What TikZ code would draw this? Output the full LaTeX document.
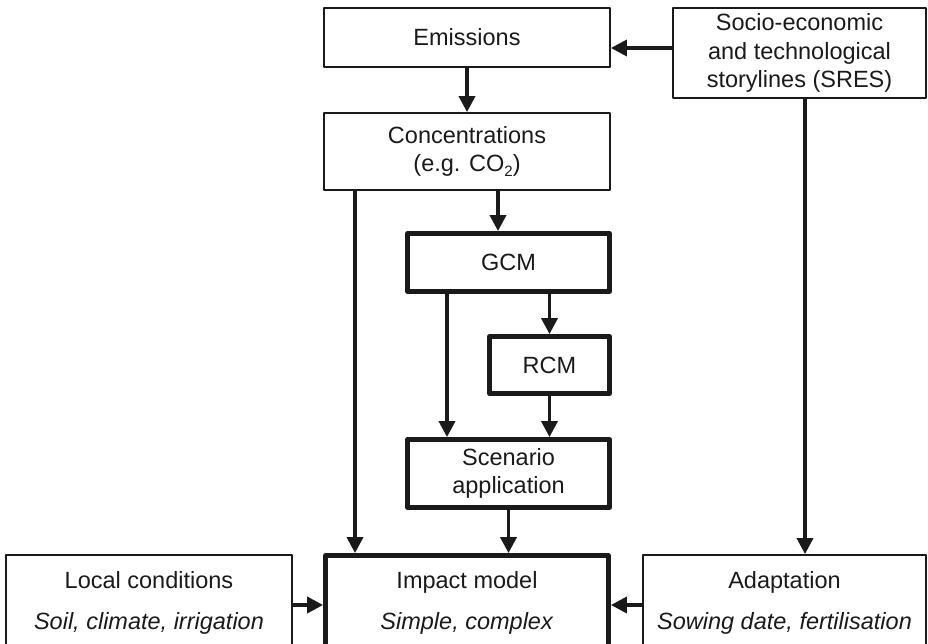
\documentclass[tikz,border=0pt]{standalone}
\usepackage{fontspec}
\setmainfont{Liberation Sans}
\usetikzlibrary{arrows.meta,calc}
\definecolor{ink}{HTML}{1A1A1A}
\newcommand{\lowsub}[1]{\raisebox{-5pt}{\fontsize{15}{15}\selectfont #1}}
\begin{document}
\begin{tikzpicture}[x=1pt,y=-1pt,
  every node/.style={font=\fontsize{23.5}{28.5}\selectfont, text=ink, align=center, inner sep=0pt},
  thinbox/.style={draw=ink, line width=1.8pt, line join=round},
  thickbox/.style={draw=ink, line width=4.8pt, line join=round},
  arr/.style={draw=ink, line width=3.5pt, -{Triangle[length=16pt,width=16pt]}}
]
\useasboundingbox (0,0) rectangle (928,644);

\node[thinbox, minimum width=286pt, minimum height=59pt] (emis) at (467,37.5) {Emissions};
\node[thinbox, minimum width=286pt, minimum height=77pt] (conc) at (467,151.5) {Concentrations\\(e.g. CO\lowsub{2})};
\node[thinbox, minimum width=253pt, minimum height=90pt] (sres) at (799.5,53) {Socio-economic\\and technological\\storylines (SRES)};
\node[thickbox, minimum width=202pt, minimum height=58pt] (gcm) at (508.5,262.5) {GCM};
\node[thickbox, minimum width=120pt, minimum height=57pt] (rcm) at (549.5,365) {RCM};
\node[thickbox, minimum width=202pt, minimum height=68pt] (scen) at (508.5,473.5) {Scenario\\application};
\node[thickbox, minimum width=283pt, minimum height=95pt] (imp) at (467,603) {Impact model\\[13pt]\textit{Simple, complex}};
\node[thinbox, minimum width=286pt, minimum height=96pt] (loc) at (149,603) {Local conditions\\[13pt]\textit{Soil, climate, irrigation}};
\node[thinbox, minimum width=283pt, minimum height=96pt] (adap) at (784.5,603) {Adaptation\\[13pt]\textit{Sowing date, fertilisation}};

\coordinate (a1) at ($(sres.west)+(0,-5)$);
\draw[arr] (a1) -- (a1 -| emis.east);
\draw[arr] (emis.south) -- (conc.north);
\coordinate (c1) at ($(conc.south)+(31,0)$);
\draw[arr] (c1) -- (c1 |- gcm.north);
\coordinate (c2) at ($(conc.south)+(-112,0)$);
\draw[arr] (c2) -- (c2 |- imp.north);
\coordinate (g1) at ($(gcm.south)+(-61.5,0)$);
\draw[arr] (g1) -- (g1 |- scen.north);
\draw[arr] (gcm.south -| rcm.north) -- (rcm.north);
\draw[arr] (rcm.south) -- (rcm.south |- scen.north);
\draw[arr] (scen.south) -- (scen.south |- imp.north);
\coordinate (s1) at ($(sres.south)+(5.5,0)$);
\draw[arr] (s1) -- (s1 |- adap.north);
\coordinate (l1) at ($(loc.east)+(0,2)$);
\draw[arr] (l1) -- (l1 -| imp.west);
\coordinate (d1) at ($(adap.west)+(0,2)$);
\draw[arr] (d1) -- (d1 -| imp.east);
\end{tikzpicture}
\end{document}
